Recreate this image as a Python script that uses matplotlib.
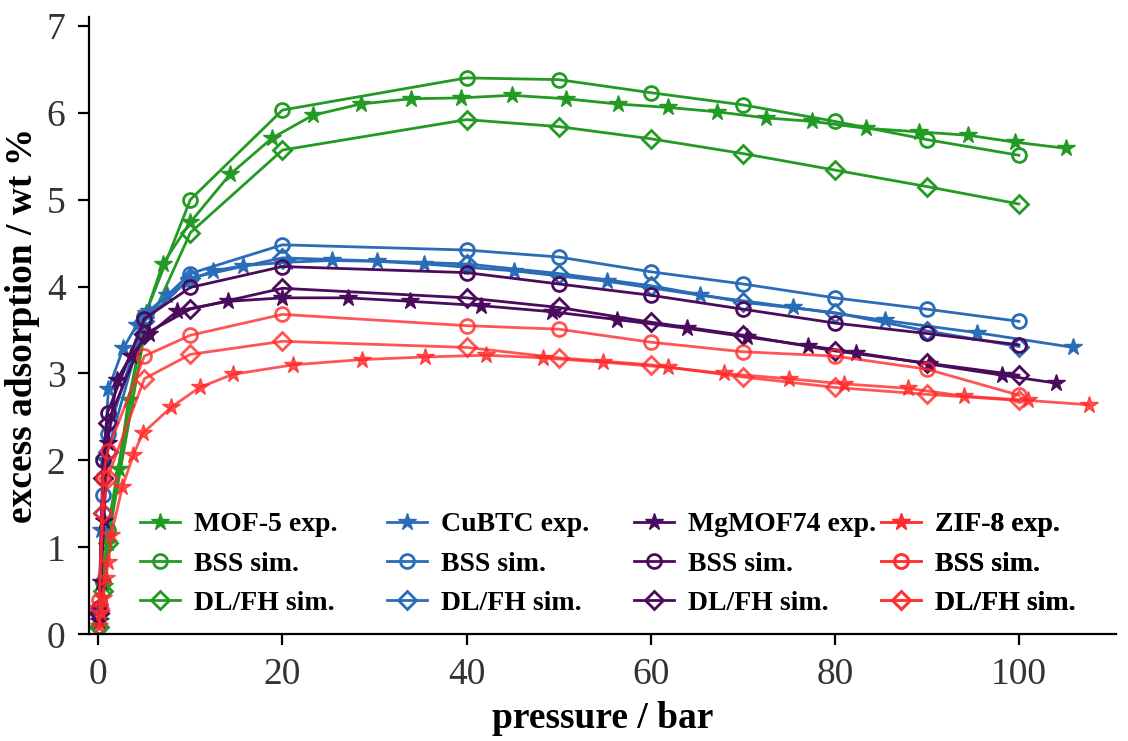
import numpy as np
import matplotlib
matplotlib.use("Agg")
import matplotlib.pyplot as plt

plt.rcParams['font.family'] = ['Liberation Serif', 'DejaVu Serif']

# simulated pressures (bar)
p_sim = [0.1, 0.5, 1, 5, 10, 20, 40, 50, 60, 70, 80, 90, 100]

# MOF-5
mof5_exp_p = [0.2, 0.6, 1.1, 2.2, 3.3, 5.2, 7.0, 10.0, 14.3, 18.9, 23.3, 28.5, 34.0, 39.4, 44.9,
              50.8, 56.4, 61.9, 67.2, 72.5, 77.5, 83.4, 89.1, 94.5, 99.6, 105.1]
mof5_exp = [0.15, 0.55, 1.05, 1.9, 2.7, 3.7, 4.26, 4.74, 5.29, 5.71, 5.97, 6.10, 6.16, 6.17, 6.20,
            6.16, 6.10, 6.06, 6.01, 5.94, 5.90, 5.82, 5.78, 5.74, 5.66, 5.59]
mof5_bss = [0.1, 0.6, 1.2, 3.65, 5.0, 6.03, 6.40, 6.38, 6.23, 6.09, 5.90, 5.69, 5.51]
mof5_dlfh = [0.08, 0.5, 1.05, 3.45, 4.62, 5.57, 5.92, 5.84, 5.70, 5.53, 5.34, 5.15, 4.95]

# CuBTC
cubtc_exp_p = [0.1, 0.3, 0.6, 1.1, 2.7, 4.2, 5.5, 7.5, 10.0, 12.5, 15.7, 20.5, 25.4, 30.3, 35.4,
               40.3, 45.2, 55.3, 65.4, 75.5, 85.5, 95.4, 105.9]
cubtc_exp = [0.3, 1.2, 2.0, 2.82, 3.29, 3.56, 3.72, 3.9, 4.08, 4.18, 4.24, 4.28, 4.30, 4.29, 4.26,
             4.22, 4.18, 4.06, 3.90, 3.76, 3.61, 3.47, 3.30]
cubtc_bss = [0.3, 1.6, 2.3, 3.65, 4.15, 4.48, 4.42, 4.34, 4.17, 4.03, 3.87, 3.74, 3.60]
cubtc_dlfh = [0.25, 1.4, 2.1, 3.6, 4.1, 4.33, 4.26, 4.15, 4.01, 3.82, 3.70, 3.49, 3.31]

# MgMOF74
mg_exp_p = [0.1, 0.3, 0.6, 1.0, 2.0, 3.5, 5.5, 8.6, 14.1, 20.0, 27.1, 33.9, 41.6, 49.3, 56.3,
            63.9, 70.5, 77.1, 82.3, 90.2, 98.2, 104.0]
mg_exp = [0.15, 0.6, 1.3, 2.2, 2.92, 3.2, 3.45, 3.72, 3.83, 3.87, 3.87, 3.83, 3.78, 3.71, 3.62,
          3.52, 3.42, 3.32, 3.24, 3.11, 2.98, 2.89]
mg_bss = [0.3, 2.0, 2.55, 3.63, 3.99, 4.23, 4.16, 4.03, 3.90, 3.74, 3.58, 3.46, 3.33]
mg_dlfh = [0.25, 1.8, 2.43, 3.45, 3.74, 3.98, 3.87, 3.76, 3.59, 3.44, 3.26, 3.12, 2.98]

# ZIF-8
zif_exp_p = [0.1, 0.3, 0.5, 0.8, 1.1, 1.4, 2.6, 3.8, 4.8, 7.9, 11.0, 14.6, 21.2, 28.6, 35.5,
             42.1, 48.3, 54.8, 61.9, 68.0, 75.0, 81.0, 87.9, 94.0, 101.0, 107.6]
zif_exp = [0.1, 0.25, 0.42, 0.65, 0.83, 1.14, 1.69, 2.06, 2.31, 2.61, 2.84, 2.99, 3.10, 3.16, 3.19,
           3.21, 3.18, 3.13, 3.07, 3.00, 2.94, 2.88, 2.83, 2.74, 2.69, 2.64]
zif_bss = [0.4, 1.8, 2.11, 3.20, 3.44, 3.68, 3.55, 3.51, 3.36, 3.25, 3.20, 3.05, 2.75]
zif_dlfh = [0.3, 1.4, 1.8, 2.94, 3.22, 3.37, 3.30, 3.18, 3.10, 2.96, 2.84, 2.76, 2.69]

materials = [
    ('MOF-5', '#239a23', 1.0, mof5_exp_p, mof5_exp, mof5_bss, mof5_dlfh),
    ('CuBTC', '#2a6cb8', 1.0, cubtc_exp_p, cubtc_exp, cubtc_bss, cubtc_dlfh),
    ('MgMOF74', '#4b0b5c', 1.0, mg_exp_p, mg_exp, mg_bss, mg_dlfh),
    ('ZIF-8', '#ff2a2a', 0.8, zif_exp_p, zif_exp, zif_bss, zif_dlfh),
]

fig = plt.figure(figsize=(11.28, 7.41), dpi=100)
ax = fig.add_axes([0.079, 0.144, 0.91, 0.833])

lw = 2.0
groups = []
for name, col, a, xp, yexp, ybss, ydl in materials:
    h1, = ax.plot(xp, yexp, color=col, alpha=a, lw=lw, marker='*', ms=13, mew=1,
                  label=name + ' exp.')
    h2, = ax.plot(p_sim, ybss, color=col, alpha=a, lw=lw, marker='o', ms=10, mew=2,
                  fillstyle='none', label='BSS sim.')
    h3, = ax.plot(p_sim, ydl, color=col, alpha=a, lw=lw, marker='D', ms=9.5, mew=2,
                  fillstyle='none', label='DL/FH sim.')
    groups.append([h1, h2, h3])

ax.set_xlim(-1, 110.5)
ax.set_ylim(0, 7.1)
ax.set_xticks([0, 20, 40, 60, 80, 100])
ax.set_yticks(range(0, 8))
ax.spines['top'].set_visible(False)
ax.spines['right'].set_visible(False)
for s in ['left', 'bottom']:
    ax.spines[s].set_linewidth(1.6)
ax.tick_params(direction='out', length=8, width=1.6, labelsize=27, labelcolor='#333333', pad=9)

ax.set_xlabel('pressure / bar', fontsize=27, fontweight='bold', labelpad=6)
ax.set_ylabel('excess adsorption / wt %', fontsize=27, fontweight='bold', labelpad=5)

# one legend per material, evenly spaced columns
for k, hs in enumerate(groups):
    leg = ax.legend(handles=hs, loc='center left',
                    bbox_to_anchor=((140 + 247 * k) / 1128, 1 - 564 / 741),
                    bbox_transform=fig.transFigure, frameon=False,
                    prop={'size': 20, 'weight': 'bold'}, handlelength=1.45,
                    handletextpad=0.5, labelspacing=0.5, borderpad=0, borderaxespad=0)
    ax.add_artist(leg)

fig.savefig('out.png', dpi=100)
